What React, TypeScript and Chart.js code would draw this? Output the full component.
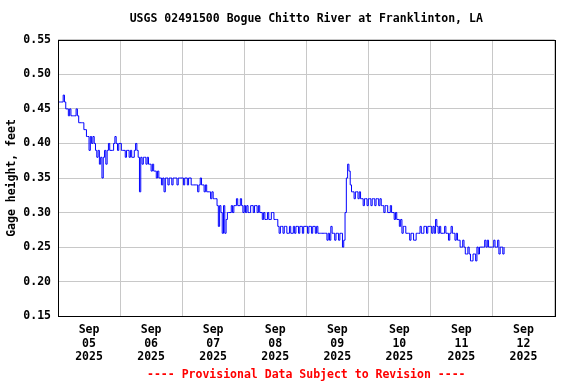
import React, { useEffect, useRef } from 'react';
import { Chart, registerables } from 'chart.js';

Chart.register(...registerables);

const TITLE = 'USGS 02491500 Bogue Chitto River at Franklinton, LA';
const Y_TITLE = 'Gage height, feet';
const FOOTER = '---- Provisional Data Subject to Revision ----';
const MONTH = 'Sep';
const YEAR = '2025';
const DAY_LABELS = ['05', '06', '07', '08', '09', '10', '11', '12'];
const Y_TICKS = [0.15, 0.2, 0.25, 0.3, 0.35, 0.4, 0.45, 0.5, 0.55];

// Gage height readings every 30 minutes, one array per day
const sep05 = [
  0.46, 0.46, 0.46, 0.46, 0.47, 0.46, 0.45, 0.45, 0.44, 0.45, 0.44, 0.44,
  0.44, 0.44, 0.45, 0.44, 0.43, 0.43, 0.43, 0.43, 0.42, 0.42, 0.41, 0.41,
  0.39, 0.41, 0.40, 0.41, 0.40, 0.39, 0.38, 0.39, 0.37, 0.38, 0.35, 0.38,
  0.39, 0.37, 0.39, 0.40, 0.39, 0.39, 0.39, 0.40, 0.41, 0.40, 0.39, 0.40,
];
const sep06 = [
  0.40, 0.39, 0.39, 0.39, 0.38, 0.39, 0.39, 0.38, 0.39, 0.38, 0.38, 0.39,
  0.40, 0.39, 0.38, 0.33, 0.38, 0.37, 0.38, 0.38, 0.37, 0.38, 0.37, 0.37,
  0.36, 0.37, 0.36, 0.36, 0.35, 0.36, 0.35, 0.35, 0.34, 0.35, 0.33, 0.35,
  0.35, 0.34, 0.35, 0.35, 0.34, 0.35, 0.35, 0.35, 0.34, 0.35, 0.35, 0.35,
];
const sep07 = [
  0.35, 0.34, 0.35, 0.35, 0.34, 0.35, 0.35, 0.34, 0.34, 0.34, 0.34, 0.34,
  0.33, 0.34, 0.35, 0.34, 0.34, 0.33, 0.34, 0.33, 0.33, 0.33, 0.32, 0.33,
  0.32, 0.32, 0.32, 0.31, 0.28, 0.31, 0.30, 0.27, 0.31, 0.27, 0.29, 0.30,
  0.30, 0.30, 0.31, 0.30, 0.31, 0.31, 0.32, 0.31, 0.31, 0.32, 0.31, 0.30,
];
const sep08 = [
  0.31, 0.30, 0.31, 0.30, 0.30, 0.31, 0.31, 0.30, 0.31, 0.31, 0.30, 0.31,
  0.30, 0.30, 0.29, 0.30, 0.29, 0.29, 0.30, 0.29, 0.29, 0.30, 0.30, 0.29,
  0.29, 0.29, 0.28, 0.27, 0.28, 0.28, 0.27, 0.28, 0.28, 0.27, 0.27, 0.28,
  0.27, 0.27, 0.28, 0.27, 0.28, 0.28, 0.27, 0.28, 0.28, 0.27, 0.28, 0.28,
];
const sep09 = [
  0.28, 0.27, 0.28, 0.28, 0.27, 0.28, 0.28, 0.27, 0.28, 0.27, 0.27, 0.27,
  0.27, 0.27, 0.27, 0.27, 0.26, 0.27, 0.26, 0.28, 0.27, 0.27, 0.26, 0.27,
  0.27, 0.26, 0.27, 0.27, 0.25, 0.26, 0.30, 0.35, 0.37, 0.36, 0.34, 0.33,
  0.33, 0.32, 0.33, 0.33, 0.32, 0.33, 0.32, 0.32, 0.31, 0.32, 0.32, 0.31,
];
const sep10 = [
  0.32, 0.32, 0.31, 0.32, 0.32, 0.31, 0.32, 0.32, 0.31, 0.32, 0.31, 0.31,
  0.30, 0.31, 0.31, 0.30, 0.30, 0.31, 0.30, 0.30, 0.29, 0.30, 0.29, 0.29,
  0.28, 0.29, 0.27, 0.28, 0.28, 0.27, 0.27, 0.27, 0.26, 0.27, 0.27, 0.26,
  0.26, 0.27, 0.27, 0.27, 0.28, 0.27, 0.27, 0.28, 0.28, 0.27, 0.28, 0.28,
];
const sep11 = [
  0.28, 0.27, 0.28, 0.27, 0.29, 0.28, 0.27, 0.28, 0.27, 0.27, 0.27, 0.28,
  0.27, 0.27, 0.26, 0.27, 0.28, 0.27, 0.27, 0.26, 0.27, 0.26, 0.26, 0.25,
  0.25, 0.26, 0.25, 0.24, 0.24, 0.25, 0.24, 0.23, 0.23, 0.24, 0.24, 0.23,
  0.25, 0.24, 0.25, 0.25, 0.25, 0.25, 0.26, 0.25, 0.26, 0.25, 0.25, 0.25,
];
const sep12 = [0.25, 0.26, 0.25, 0.25, 0.26, 0.24, 0.25, 0.25, 0.24, 0.25];

const DAYS = [sep05, sep06, sep07, sep08, sep09, sep10, sep11, sep12];
const STEPS_PER_DAY = 48;

const FONT_FAMILY = "'DejaVu Sans Mono', 'Liberation Mono', monospace";
const GRID_COLOR = '#c8c8c8';

const frame = {
  id: 'frame',
  afterDatasetsDraw(chart: any) {
    const { ctx, chartArea } = chart;
    const l = Math.round(chartArea.left) + 0.5;
    const t = Math.round(chartArea.top) + 0.5;
    const r = Math.round(chartArea.right) + 0.5;
    const b = Math.round(chartArea.bottom) + 0.5;
    ctx.save();
    ctx.strokeStyle = '#000000';
    ctx.lineWidth = 1;
    ctx.strokeRect(l, t, r - l, b - t);
    ctx.restore();
  },
};

export default function App() {
  const ref = useRef<HTMLCanvasElement | null>(null);

  useEffect(() => {
    if (!ref.current) return;
    const points = DAYS.flatMap((arr, d) =>
      arr.map((v, k) => ({ x: d + k / STEPS_PER_DAY, y: v }))
    );
    const font = { family: FONT_FAMILY, size: 11.5, weight: 'bold' as const, lineHeight: 1.18 };

    const chart = new Chart(ref.current, {
      type: 'line',
      data: {
        datasets: [
          {
            data: points,
            borderColor: '#0000ff',
            borderWidth: 1,
            pointRadius: 0,
            stepped: true,
            fill: false,
            tension: 0,
          },
        ],
      },
      options: {
        animation: false,
        responsive: false,
        events: [],
        layout: { padding: { left: 0, right: 21.5, top: 0, bottom: 0 } },
        plugins: {
          legend: { display: false },
          tooltip: { enabled: false },
          title: {
            display: true,
            text: TITLE,
            color: '#000000',
            font: { ...font, lineHeight: 1.2 },
            fullSize: false,
            padding: { top: 12, bottom: 14 },
          },
          subtitle: {
            display: true,
            position: 'bottom',
            text: FOOTER,
            color: '#ff0000',
            font: { ...font, lineHeight: 1.2 },
            fullSize: false,
            padding: { top: 4, bottom: 2 },
          },
        },
        scales: {
          x: {
            type: 'linear',
            min: 0,
            max: 8,
            afterBuildTicks: (scale: any) => {
              const ticks = [];
              for (let i = 0; i <= 16; i++) ticks.push({ value: i / 2 });
              scale.ticks = ticks;
            },
            afterFit: (scale: any) => {
              scale.height = 48;
            },
            grid: {
              color: (c: any) =>
                c.tick && Number.isInteger(c.tick.value) ? GRID_COLOR : 'rgba(0,0,0,0)',
              lineWidth: 1,
              drawTicks: false,
            },
            border: { display: false },
            ticks: {
              autoSkip: false,
              maxRotation: 0,
              minRotation: 0,
              padding: 7,
              color: '#000000',
              font,
              callback: (value: any) => {
                const v = Number(value);
                if (Number.isInteger(v)) return '';
                return [MONTH, DAY_LABELS[Math.floor(v)], YEAR];
              },
            },
          },
          y: {
            type: 'linear',
            min: 0.15,
            max: 0.55,
            afterBuildTicks: (scale: any) => {
              scale.ticks = Y_TICKS.map((v) => ({ value: v }));
            },
            afterFit: (scale: any) => {
              scale.width = 58;
            },
            grid: { color: GRID_COLOR, lineWidth: 1, drawTicks: false },
            border: { display: false },
            title: {
              display: true,
              text: Y_TITLE,
              color: '#000000',
              font,
              padding: { top: 5, bottom: 0 },
            },
            ticks: {
              padding: 7,
              color: '#000000',
              font,
              callback: (value: any) => Number(value).toFixed(2),
            },
          },
        },
      },
      plugins: [frame],
    } as any);

    return () => chart.destroy();
  }, []);

  return (
    <div style={{ position: 'fixed', left: 0, top: 0, width: 576, height: 384, background: '#ffffff' }}>
      <canvas ref={ref} width={576} height={384} style={{ display: 'block' }} />
    </div>
  );
}
